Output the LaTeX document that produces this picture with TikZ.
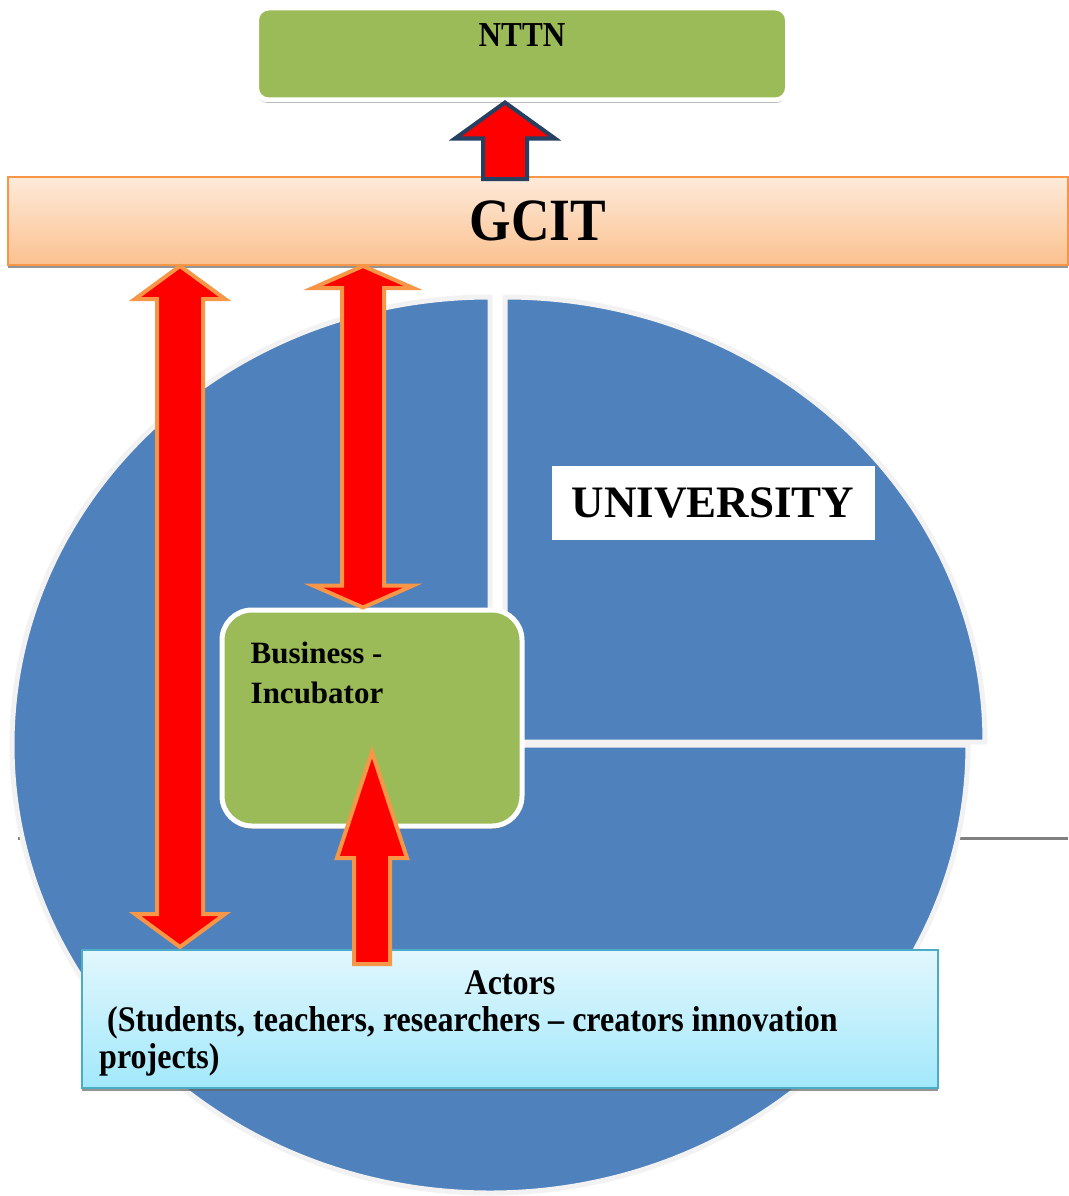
\documentclass[tikz,border=0pt]{standalone}
\usepackage{fontspec}
\setmainfont{Liberation Serif}
\newfontfamily\narrowserif[FakeStretch=0.89, Ligatures=TeX]{Liberation Serif}
\usetikzlibrary{calc, shadows}

\definecolor{pieblue}{HTML}{4F81BD}
\definecolor{piegray}{HTML}{F2F2F2}
\definecolor{boxgreen}{HTML}{9BBB59}
\definecolor{barorange}{HTML}{F79646}
\definecolor{bartop}{HTML}{FDEADA}
\definecolor{barbottom}{HTML}{FBC18F}
\definecolor{actborder}{HTML}{4BACC6}
\definecolor{acttop}{HTML}{E2F7FD}
\definecolor{actbottom}{HTML}{A2E8FB}
\definecolor{navyline}{HTML}{254061}

\tikzset{
  softshadow/.style={drop shadow={shadow xshift=0pt, shadow yshift=-3pt, fill=black!60, opacity=0.7}},
  greenbox/.style={draw=white, line width=5pt, fill=boxgreen, inner sep=0pt, softshadow},
  piece/.style={fill=pieblue, draw=piegray, line width=5pt, line join=round},
  redarrow/.style={fill=red, draw=barorange, line width=4pt},
  boldtext/.style={inner sep=0pt, font=\bfseries\fontsize{#1}{40}\selectfont},
  narrowtext/.style={inner sep=0pt, font=\narrowserif\bfseries\fontsize{#1}{37}\selectfont},
}

% block arrows: style, base, tip, shaft half width, head half width, head length
\newcommand{\blockup}[6]{%
  \filldraw[#1] ($(#2)+(-#4,0)$) -- ($(#3)+(-#4,#6)$) -- ($(#3)+(-#5,#6)$) -- (#3)
    -- ($(#3)+(#5,#6)$) -- ($(#3)+(#4,#6)$) -- ($(#2)+(#4,0)$) -- cycle;}
% style, top tip, bottom tip, shaft half width, head half width, head length
\newcommand{\blockboth}[6]{%
  \filldraw[#1] (#2) -- ($(#2)+(#5,#6)$) -- ($(#2)+(#4,#6)$) -- ($(#3)+(#4,-#6)$)
    -- ($(#3)+(#5,-#6)$) -- (#3) -- ($(#3)+(-#5,-#6)$) -- ($(#3)+(-#4,-#6)$)
    -- ($(#2)+(-#4,#6)$) -- ($(#2)+(-#5,#6)$) -- cycle;}

\begin{document}
\begin{tikzpicture}[x=1pt, y=-1pt]
\useasboundingbox (0,0) rectangle (1068,1196);

% grey line behind the circle
\draw[gray, line width=3pt] (18,838) -- (1068,838);

% University circle: three quarters and the pulled-out quarter
\coordinate (C) at (490,745);
\coordinate (Q) at (505,742);
\filldraw[piece] (C) -- ++(478,0)
  arc[start angle=0, end angle=270, x radius=478, y radius=448] -- cycle;
\filldraw[piece] (Q) -- ++(0,-445)
  arc[start angle=270, end angle=360, x radius=480, y radius=445] -- cycle;

% GCIT bar
\node[draw=barorange, line width=2pt, top color=bartop, bottom color=barbottom,
  minimum width=1060pt, minimum height=88pt, softshadow,
  narrowtext=60] (gcit) at (538,221) {GCIT};

% NTTN
\node[greenbox, rounded corners=12pt, minimum width=531pt, minimum height=92pt]
  (nttn) at (522,54) {};
\node[narrowtext=35, anchor=base] at ($(nttn.north)+(0,41)$) {NTTN};

% University label
\node[fill=white, minimum width=323pt, minimum height=74pt, boldtext=45]
  (univ) at (713,503) {UNIVERSITY};

% Business incubator
\node[greenbox, rounded corners=30pt, minimum width=300pt, minimum height=216pt]
  (incub) at (372,718) {};
\node[boldtext=31, align=left, anchor=north west]
  at ($(incub.north west)+(31,34)$) {Business -\\Incubator};

% Actors
\node[draw=actborder, line width=2pt, top color=acttop, bottom color=actbottom,
  minimum width=856pt, minimum height=138pt, inner sep=0pt, softshadow]
  (actors) at (510,1019) {};
\node[narrowtext=36, anchor=base] at ($(actors.north)+(0,45)$) {Actors};
\node[narrowtext=36, align=left, anchor=north west]
  at ($(actors.north west)+(18,57)$)
  {\hspace*{8pt}(Students, teachers, researchers – creators innovation\\projects)};

% arrows
\coordinate (nttnin) at (505,0 |- nttn.south);
\coordinate (gcitout) at ($(505,0 |- gcit.north)+(0,3)$);
\coordinate (ltop) at (180,0 |- gcit.south);
\coordinate (lbot) at ($(180,0 |- actors.north)+(0,-2)$);
\coordinate (mtop) at (363,0 |- gcit.south);
\coordinate (mbot) at (363,0 |- incub.north);
\coordinate (incin) at (372,752);
\coordinate (actout) at ($(372,0 |- actors.north)+(0,15)$);

\blockup{fill=red, draw=navyline, line width=4pt}{gcitout}{nttnin}{22}{50}{36}
\blockboth{redarrow}{ltop}{lbot}{23}{45}{33}
\blockboth{redarrow}{mtop}{mbot}{21}{50}{22}
\blockup{redarrow}{actout}{incin}{18}{35}{106}

\end{tikzpicture}
\end{document}
